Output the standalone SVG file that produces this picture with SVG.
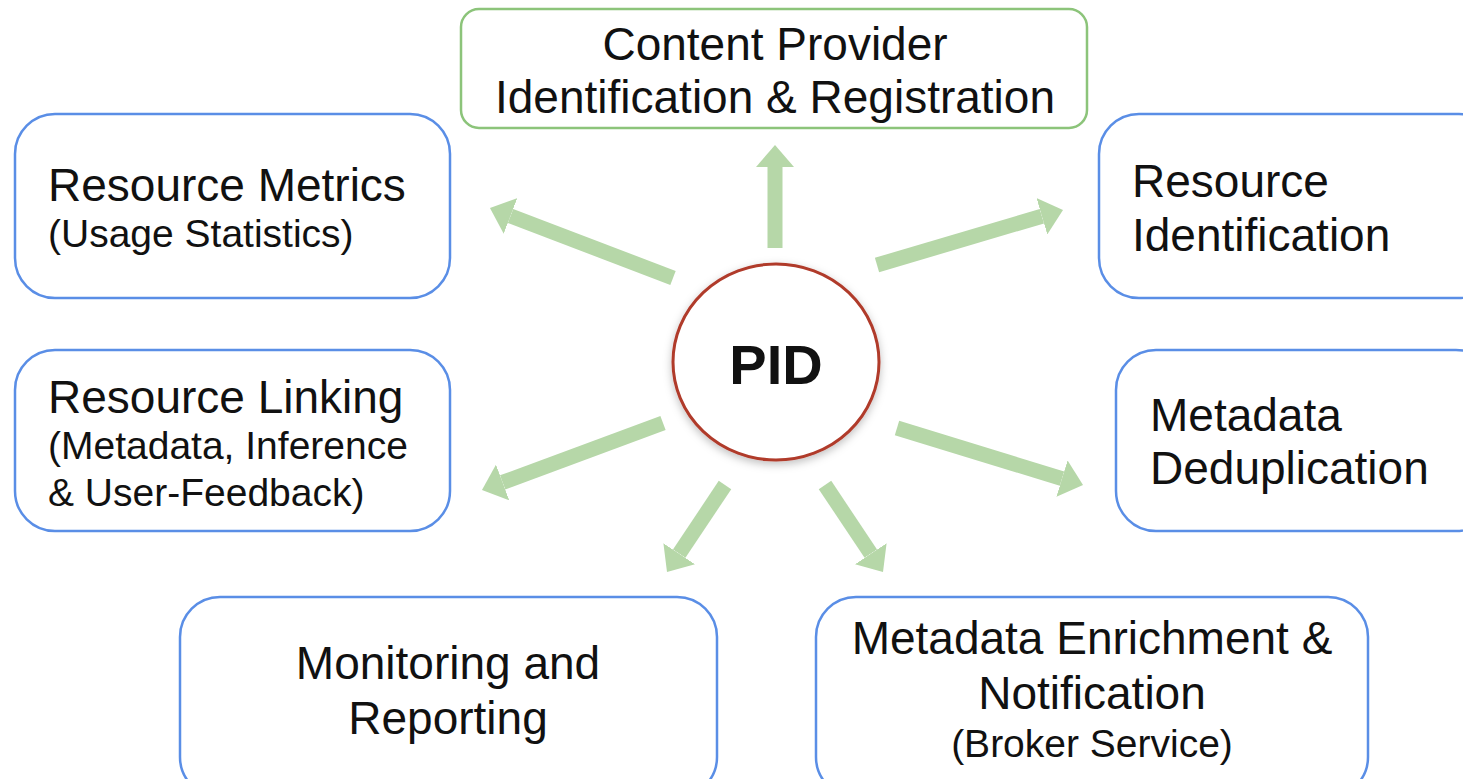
<svg xmlns="http://www.w3.org/2000/svg" width="1463" height="779" viewBox="0 0 1463 779">
<style>
.box{fill:#fff;stroke:#5a8ee6;stroke-width:2.5}
.gbox{fill:#fff;stroke:#8cc47a;stroke-width:2.5}
.t{font-family:"Liberation Sans",Arial,sans-serif;font-size:46px;fill:#111}
.s{font-family:"Liberation Sans",Arial,sans-serif;font-size:39px;fill:#111}
.c{text-anchor:middle}
.arr{stroke:#b6d7a8;stroke-width:15;fill:none;marker-end:url(#ah)}
</style>
<defs>
<marker id="ah" markerUnits="userSpaceOnUse" viewBox="0 0 22 38" markerWidth="22" markerHeight="38" refX="0" refY="19" orient="auto">
<path d="M0,0 L22,19 L0,38 Z" fill="#b6d7a8"/>
</marker>
<filter id="sh" x="-20%" y="-20%" width="140%" height="140%">
<feDropShadow dx="0" dy="3" stdDeviation="4" flood-color="#000" flood-opacity="0.25"/>
</filter>
</defs>
<rect width="1463" height="779" fill="#fff"/>
<g id="connectors">
<line class="arr" x1="775" y1="248" x2="775" y2="167"/>
<line class="arr" x1="673" y1="278" x2="510.5" y2="215.9"/>
<line class="arr" x1="877" y1="265" x2="1041.9" y2="216.2"/>
<line class="arr" x1="663" y1="423" x2="502.6" y2="482.4"/>
<line class="arr" x1="897" y1="428" x2="1062" y2="478.6"/>
<line class="arr" x1="725" y1="485" x2="679.2" y2="553.7"/>
<line class="arr" x1="825" y1="485" x2="870.8" y2="553.7"/>
</g>
<g id="content-provider">
<rect class="gbox" x="461" y="9" width="626" height="119" rx="18"/>
<text class="t c" x="775" y="60">Content Provider</text>
<text class="t c" x="775" y="113">Identification &amp; Registration</text>
</g>
<g id="resource-metrics">
<rect class="box" x="15" y="114" width="435" height="184" rx="40"/>
<text class="t" x="48" y="201">Resource Metrics</text>
<text class="s" x="48" y="247">(Usage Statistics)</text>
</g>
<g id="resource-identification">
<rect class="box" x="1099" y="114" width="400" height="184" rx="40"/>
<text class="t" x="1132" y="197">Resource</text>
<text class="t" x="1132" y="251">Identification</text>
</g>
<g id="resource-linking">
<rect class="box" x="15" y="350" width="435" height="181" rx="40"/>
<text class="t" x="48" y="413">Resource Linking</text>
<text class="s" x="48" y="459">(Metadata, Inference</text>
<text class="s" x="48" y="506">&amp; User-Feedback)</text>
</g>
<g id="metadata-deduplication">
<rect class="box" x="1116" y="350" width="380" height="181" rx="40"/>
<text class="t" x="1150" y="431">Metadata</text>
<text class="t" x="1150" y="484">Deduplication</text>
</g>
<g id="monitoring-reporting">
<rect class="box" x="180" y="597" width="537" height="200" rx="40"/>
<text class="t c" x="448" y="679">Monitoring and</text>
<text class="t c" x="448" y="734">Reporting</text>
</g>
<g id="metadata-enrichment">
<rect class="box" x="816" y="597" width="552" height="200" rx="40"/>
<text class="t c" x="1092" y="654">Metadata Enrichment &amp;</text>
<text class="t c" x="1092" y="709">Notification</text>
<text class="s c" x="1092" y="757">(Broker Service)</text>
</g>
<g id="pid">
<ellipse cx="776" cy="362" rx="103" ry="98" fill="#fff" stroke="#b03a2a" stroke-width="3" filter="url(#sh)"/>
<text x="776" y="384" text-anchor="middle" font-family="Liberation Sans,Arial,sans-serif" font-weight="bold" font-size="56" fill="#111">PID</text>
</g>
</svg>
